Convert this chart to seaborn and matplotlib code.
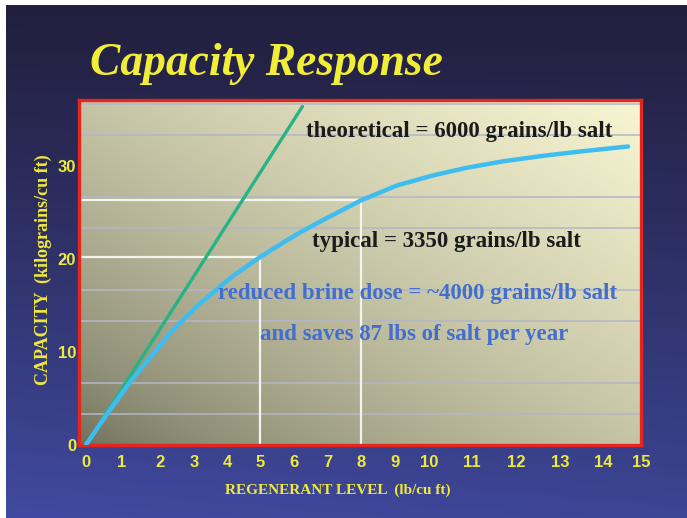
import numpy as np
import matplotlib
matplotlib.use("Agg")
import matplotlib.pyplot as plt
import seaborn as sns
import pandas as pd

# values
level = [0, 0.62, 1.26, 2.34, 3.18, 4.19, 5.0, 5.7, 6.2, 6.86, 8.0, 9.05, 10.1, 10.87, 11.7, 12.62, 13.54, 14.66]
capacity = [0, 3.5, 7.0, 12.2, 15.2, 18.2, 20.2, 21.8, 22.9, 24.2, 26.3, 27.9, 29.0, 29.8, 30.5, 31.1, 31.6, 32.1]
theory_level = [0, 6.25]
theory_capacity = [0, 36.4]
ref_level = [5, 8]
ref_capacity = [20.2, 26.3]
x_ticks = list(range(16))
y_ticks = [0, 10, 20, 30]

# the slide's x axis is hand drawn: unit widths are not even (relative spacing per tick)
x_spacing = [0, 36, 74, 108, 141, 174, 208, 242, 275, 309, 343, 386, 430, 474, 517, 555]

W, H = 687, 518
YEL = "#efe93c"
BLUE_TXT = "#416ecf"

sns.set_style("white")
plt.rcParams["font.family"] = ["Liberation Serif", "DejaVu Serif"]


def fwd(x):
    x = np.asarray(x, dtype=float)
    lo = x_spacing[0] + x * (x_spacing[1] - x_spacing[0])
    hi = x_spacing[-1] + (x - 15) * (x_spacing[-1] - x_spacing[-2])
    return np.where(x < 0, lo, np.where(x > 15, hi, np.interp(x, x_ticks, x_spacing)))


def inv(p):
    p = np.asarray(p, dtype=float)
    lo = p / (x_spacing[1] - x_spacing[0])
    hi = 15 + (p - x_spacing[-1]) / (x_spacing[-1] - x_spacing[-2])
    return np.where(p < 0, lo, np.where(p > x_spacing[-1], hi, np.interp(p, x_spacing, x_ticks)))


def fx(x, y):
    return x / W, 1 - y / H


fig = plt.figure(figsize=(W / 100, H / 100), dpi=100, facecolor="white")

# slide background
bg = fig.add_axes([6 / W, 0, 1 - 6 / W, 1 - 5 / H], zorder=0)
v = np.linspace(0, 1, 200)[:, None]
u = np.linspace(0, 1, 200)[None, :]
top = np.array([34, 31, 62]) / 255
bot = np.array([64, 74, 160]) / 255
t = (v ** 1.1)[..., None] * (1 - 0.12 * u[..., None])
img = top + (bot - top) * t
bg.imshow(img, aspect="auto", extent=(0, 1, 1, 0), interpolation="bilinear")
bg.axis("off")

pos = [79 / W, 1 - 445 / H, (641 - 79) / W, (445 - 100) / H]

# plot area gradient
gax = fig.add_axes(pos, zorder=1)
uu = np.linspace(0, 1, 200)[None, :]
vv = np.linspace(1, 0, 200)[:, None]
tt = ((uu + vv) / 2) ** 0.65
c0 = np.array([108, 108, 88]) / 255
c1 = np.array([248, 246, 210]) / 255
gax.imshow(c0 + (c1 - c0) * tt[..., None], aspect="auto", extent=(0, 1, 0, 1), interpolation="bilinear")
gax.axis("off")

ax = fig.add_axes(pos, zorder=2)
ax.patch.set_alpha(0)
ax.set_xscale("function", functions=(fwd, inv))

ax.hlines(ref_capacity, -0.2, ref_level, colors="#f4f4ee", lw=1.6, zorder=2)
ax.vlines(ref_level, 0, ref_capacity, colors="#f4f4ee", lw=1.6, zorder=2)

sns.lineplot(x=theory_level, y=theory_capacity, ax=ax, color="#27b386", lw=2.4, zorder=3)
df = pd.DataFrame({"level": level, "capacity": capacity})
sns.lineplot(data=df, x="level", y="capacity", ax=ax, color="#3dbdf0", lw=3.2, zorder=4,
             solid_capstyle="round", solid_joinstyle="round")

ax.set_xlim(-0.19, 15)
ax.set_ylim(0, 37.1)
ax.set_xticks(x_ticks)
ax.set_yticks(y_ticks)
ax.set_yticks(np.arange(1, 12) * 10 / 3, minor=True)
ax.yaxis.grid(True, which="minor", color="#b4b6c8", lw=1.1)
ax.yaxis.grid(False, which="major")
ax.xaxis.grid(False)
ax.set_axisbelow(True)
ax.tick_params(axis="both", which="both", length=0, labelcolor=YEL)
ax.tick_params(axis="x", pad=7)
ax.tick_params(axis="y", pad=2)
for lab in ax.get_xticklabels() + ax.get_yticklabels():
    lab.set_fontfamily("Liberation Sans")
    lab.set_fontweight("bold")
    lab.set_fontsize(12)
ax.set_xlabel("")
ax.set_ylabel("")
for s in ax.spines.values():
    s.set_color("#e6261c")
    s.set_linewidth(2.4)

fig.text(*fx(90, 75), "Capacity Response", color="#f2ee38", fontsize=32.8,
         fontweight="bold", fontstyle="italic", ha="left", va="baseline")

fig.text(*fx(338, 490), "REGENERANT LEVEL  (lb/cu ft)", color=YEL, fontsize=11,
         fontweight="bold", ha="center", va="center")
fig.text(*fx(43, 270), "CAPACITY  (kilograins/cu ft)", color=YEL, fontsize=13,
         fontweight="bold", ha="center", va="center", rotation=90)

fig.text(*fx(306, 137), "theoretical = 6000 grains/lb salt", color="#1b1b1b", fontsize=16.5,
         fontweight="bold", ha="left", va="baseline", zorder=5)
fig.text(*fx(312, 247), "typical = 3350 grains/lb salt", color="#1b1b1b", fontsize=16.5,
         fontweight="bold", ha="left", va="baseline", zorder=5)
fig.text(*fx(218, 299), "reduced brine dose = ~4000 grains/lb salt", color=BLUE_TXT, fontsize=16.5,
         fontweight="bold", ha="left", va="baseline", zorder=5)
fig.text(*fx(260, 340), "and saves 87 lbs of salt per year", color=BLUE_TXT, fontsize=16.5,
         fontweight="bold", ha="left", va="baseline", zorder=5)

fig.savefig("out.png", dpi=100, facecolor="white")
